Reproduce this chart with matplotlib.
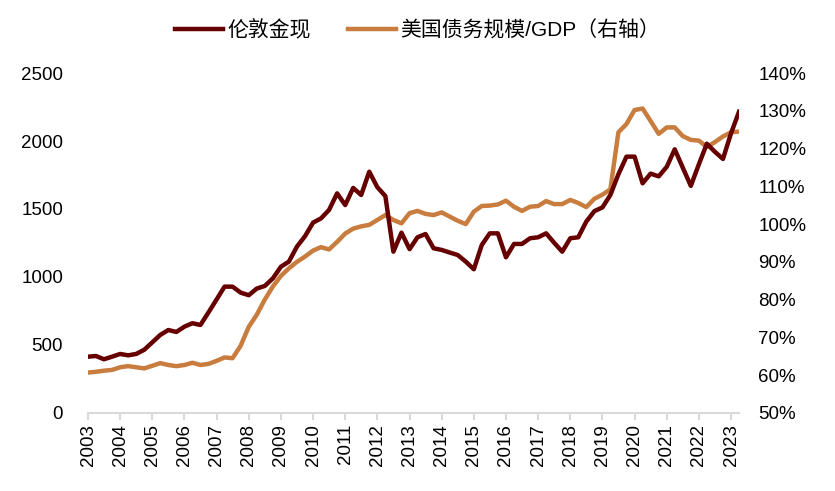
import pandas as pd
import matplotlib
matplotlib.use("Agg")
import matplotlib.pyplot as plt
import matplotlib.dates as mdates
from matplotlib.ticker import FuncFormatter

# quarterly, 2003Q1 .. 2023Q2
quarters = pd.date_range("2003-01-01", periods=82, freq="QS")

gold = [414, 419, 395, 414, 434, 424, 434, 465, 520, 574,
        610, 596, 635, 660, 647, 740, 835, 929, 929, 885,
        866, 915, 934, 990, 1076, 1113, 1223, 1300, 1400, 1431,
        1493, 1615, 1529, 1655, 1603, 1774, 1660, 1595, 1186, 1326,
        1205, 1292, 1316, 1211, 1199, 1180, 1162, 1113, 1057, 1235,
        1321, 1321, 1145, 1243, 1243, 1285, 1292, 1321, 1252, 1186,
        1285, 1292, 1407, 1484, 1512, 1603, 1755, 1885, 1885, 1689,
        1760, 1740, 1811, 1939, 1805, 1670, 1830, 1980, 1921, 1868,
        2057, 2215]

debt_gdp = [60.7, 60.9, 61.2, 61.4, 62.1, 62.4, 62.1, 61.8, 62.5, 63.2,
            62.7, 62.4, 62.7, 63.3, 62.7, 63.0, 63.8, 64.7, 64.5, 67.8,
            72.8, 76.0, 80.0, 83.5, 86.3, 88.3, 90.0, 91.4, 93.0, 93.9,
            93.3, 95.3, 97.5, 98.8, 99.4, 99.8, 101.1, 102.4, 101.1, 100.2,
            102.9, 103.5, 102.7, 102.4, 103.1, 102.0, 100.9, 100.0, 103.3, 104.8,
            104.9, 105.2, 106.2, 104.6, 103.5, 104.6, 104.8, 106.1, 105.3, 105.3,
            106.4, 105.6, 104.5, 106.7, 107.8, 109.2, 124.3, 126.5, 130.2, 130.6,
            127.3, 123.9, 125.6, 125.6, 123.3, 122.3, 122.1, 120.4, 121.7, 123.2,
            124.3, 124.5]

gold_color = "#660000"
debt_color = "#C87C3E"

plt.rcParams["font.family"] = ["Liberation Sans", "Noto Sans CJK SC", "DejaVu Sans"]

fig = plt.figure(figsize=(8.35, 4.91), dpi=100)
ax = fig.add_axes([0.1054, 0.1589, 0.7796, 0.6924])
ax2 = ax.twinx()

l1, = ax.plot(quarters, gold, color=gold_color, lw=3.2, label="伦敦金现", zorder=3)
l2, = ax2.plot(quarters, [v / 100 for v in debt_gdp], color=debt_color, lw=3.2,
               label="美国债务规模/GDP（右轴）", zorder=2)
ax.set_zorder(ax2.get_zorder() + 1)
ax.patch.set_visible(False)

ax.set_ylim(0, 2500)
ax.set_yticks(range(0, 2501, 500))
ax2.set_ylim(0.5, 1.4)
ax2.set_yticks([0.5 + 0.1 * i for i in range(10)])
ax2.yaxis.set_major_formatter(FuncFormatter(lambda v, p: f"{round(v * 100)}%"))

ax.set_xlim(quarters[0], quarters[-1])
ax.xaxis.set_major_locator(mdates.YearLocator())
ax.xaxis.set_major_formatter(mdates.DateFormatter("%Y"))
for lab in ax.get_xticklabels():
    lab.set_rotation(90)

for a in (ax, ax2):
    for side in ("top", "left", "right", "bottom"):
        a.spines[side].set_visible(False)
ax.spines["bottom"].set_visible(True)
ax.spines["bottom"].set_color("#D9D9D9")
ax.spines["bottom"].set_linewidth(1.5)

ax.tick_params(axis="x", length=5, width=1.5, color="#D9D9D9", labelsize=13.5, pad=3)
ax.tick_params(axis="y", length=0, labelsize=13.5, pad=18)
ax2.tick_params(axis="y", length=0, labelsize=13.5, pad=14)

fig.legend(handles=[l1, l2], loc="center", bbox_to_anchor=(0.5, 0.939), ncol=2,
           frameon=False, fontsize=15, handlelength=2.3, handletextpad=0.2,
           columnspacing=1.8)

fig.savefig("out.png", dpi=100)
